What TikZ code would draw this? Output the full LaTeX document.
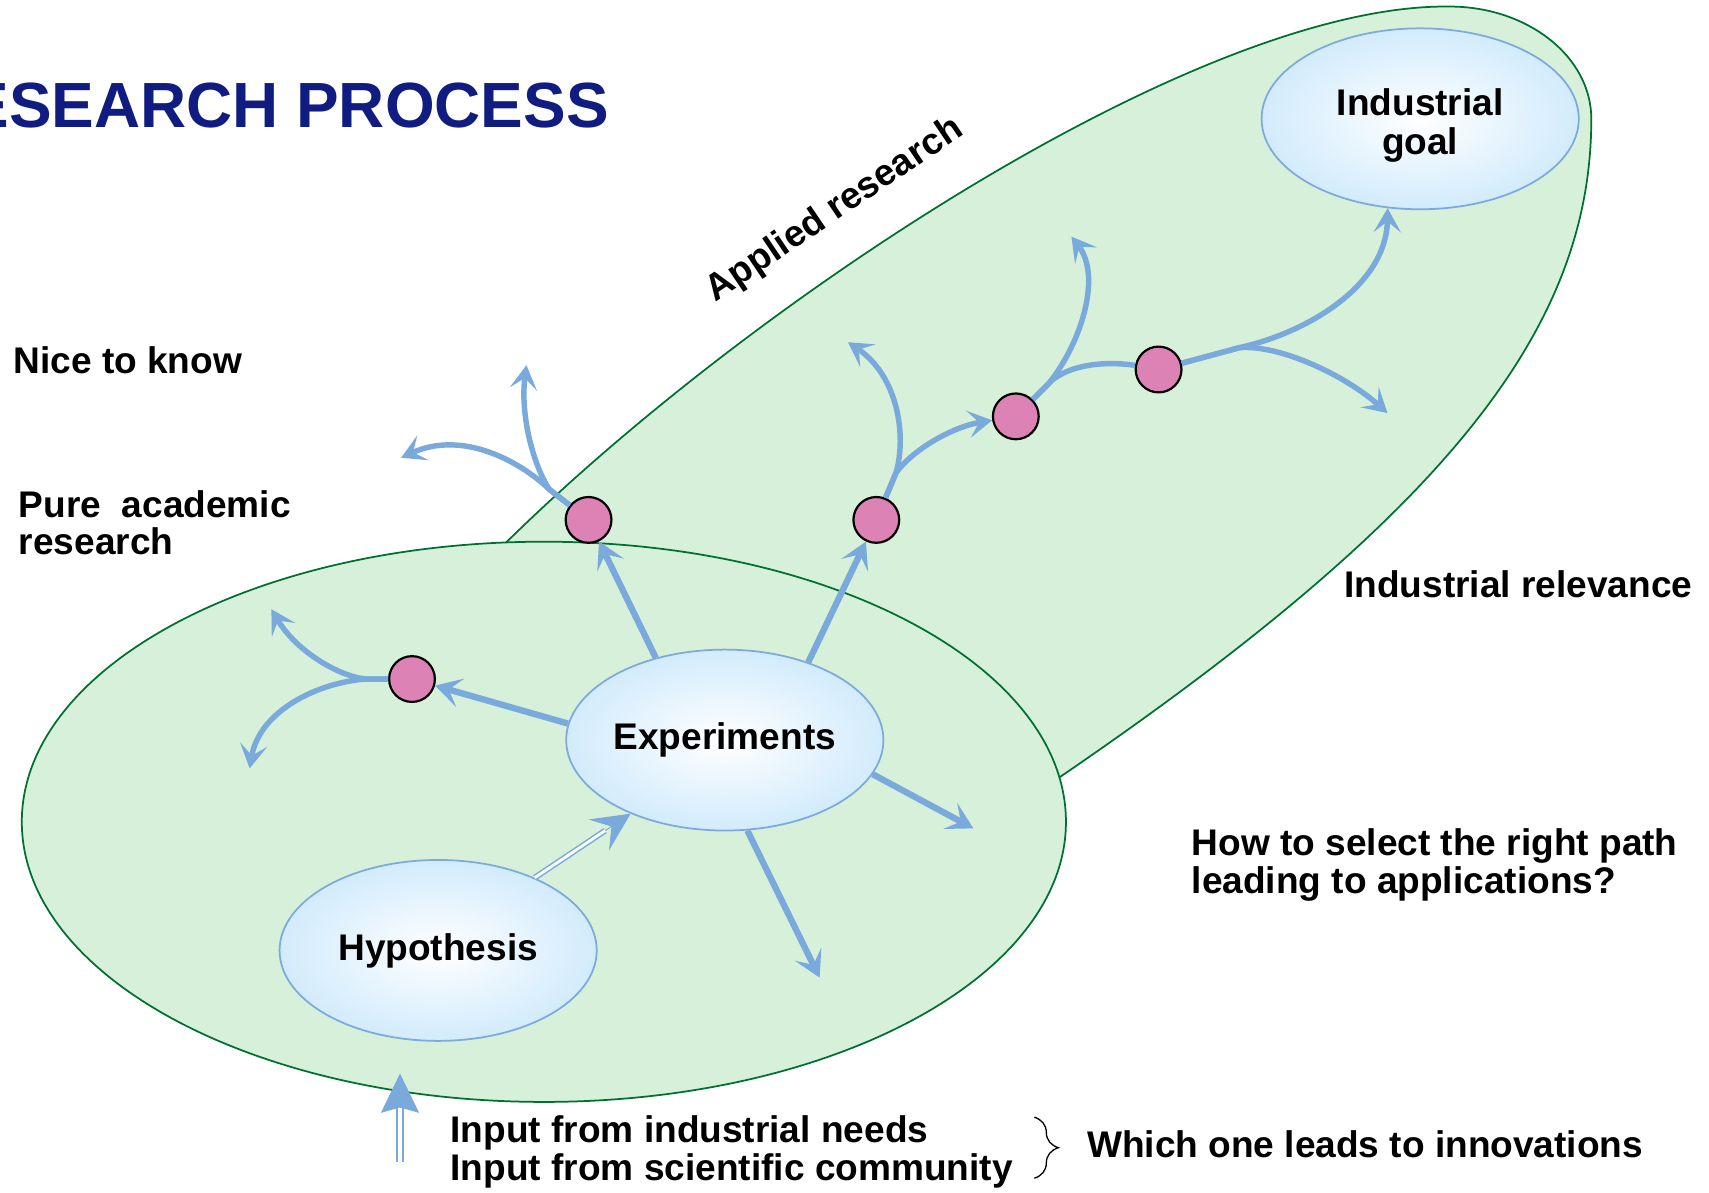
\documentclass[tikz,border=0pt]{standalone}
\usepackage{fontspec}
\setmainfont{Liberation Sans}
\usetikzlibrary{shapes.geometric,arrows.meta,decorations.pathreplacing}
\definecolor{areagreen}{RGB}{214,240,218}
\definecolor{edgegreen}{RGB}{0,112,48}
\definecolor{arrowblue}{RGB}{122,170,220}
\definecolor{bubbleblue}{RGB}{210,235,252}
\definecolor{bubbleedge}{RGB}{125,170,220}
\definecolor{dotpink}{RGB}{220,130,180}
\definecolor{titleblue}{RGB}{16,28,128}
\tikzset{
  lbl/.style={font=\bfseries\fontsize{17}{17.5}\selectfont, inner sep=0pt, anchor=base west},
  bubble/.style={ellipse, draw=bubbleedge, line width=0.8pt, inner color=white, outer color=bubbleblue,
    minimum width=145.5pt, minimum height=83pt, inner sep=0pt,
    font=\bfseries\fontsize{17}{17.5}\selectfont, align=center},
  dotnode/.style={circle, draw=black, line width=1pt, fill=dotpink, minimum size=21pt, inner sep=0pt},
  marr/.style={draw=arrowblue, line width=2.9pt, -{Stealth[length=12pt, width=13.5pt, inset=5.5pt]}},
  barr/.style={draw=arrowblue, line width=2.5pt, -{Stealth[length=11pt, width=12.5pt, inset=5pt]}},
  bline/.style={draw=arrowblue, line width=2.5pt},
  region/.style={fill=areagreen, draw=edgegreen, line width=0.8pt},
}
\begin{document}
\begin{tikzpicture}[x=0.5pt, y=-0.5pt]
\useasboundingbox (0,0) rectangle (1568,1093.7);
\fill[white] (0,0) rectangle (1568,1093.7);

% applied research region (its lower-left part is hidden by the pure research region)
\path[region] (430,545) -- (455,507)
  .. controls (680,282) and (1100,3) .. (1330,6)
  .. controls (1401.5,6) and (1460,52) .. (1460,109)
  .. controls (1460,300) and (1330,470) .. (965,718)
  -- (940,740) -- cycle;
% pure research region
\path[region] (499,754) ellipse [x radius=239.5pt, y radius=128.5pt];

% title and labels
\node[anchor=base east, font=\bfseries\fontsize{29.3}{30}\selectfont, text=titleblue, inner sep=0pt]
  (title) at (559,117) {RESEARCH PROCESS};
\node[lbl] (nice) at (12,343) {Nice to know};
\node[lbl] (pure1) at (17,475) {Pure\ \ academic};
\node[lbl] (pure2) at (17,509) {research};
\node[lbl] (relev) at (1233,548) {Industrial relevance};
\node[lbl] (how1) at (1093,785) {How to select the right path};
\node[lbl] (how2) at (1093,820) {leading to applications?};
\node[lbl] (in1) at (413,1048) {Input from industrial needs};
\node[lbl] (in2) at (413,1083) {Input from scientific community};
\node[lbl] (which) at (997,1062) {Which one leads to innovations};
\node[font=\bfseries\fontsize{17}{17.5}\selectfont, inner sep=0pt, rotate=34]
  (applied) at (766,193) {Applied research};

% bubbles
\node[bubble] (exp) at (665,679) {Experiments};
\node[bubble] (hyp) at (402,872) {Hypothesis};
\node[bubble] (goal) at (1303,109) {\raisebox{-8.3pt}[0pt][0pt]{\begin{tabular}{@{}c@{}}Industrial\\[0.5pt]goal\end{tabular}}};

% dots
\node[dotnode] (d1) at (378,623) {};
\node[dotnode] (d2) at (540,477) {};
\node[dotnode] (d3) at (804,477) {};
\node[dotnode] (d4) at (932,382) {};
\node[dotnode] (d5) at (1063,339) {};

% free ends and junctions
\coordinate (e1) at (893,760);
\coordinate (e2) at (752,897);
\coordinate (j1) at (336,623);
\coordinate (t1a) at (249,559);
\coordinate (t1b) at (229,705);
\coordinate (j2) at (504,449);
\coordinate (t2a) at (483,335);
\coordinate (t2b) at (368,420);
\coordinate (j3) at (822,434);
\coordinate (t3a) at (778,314);
\coordinate (j4) at (962,352);
\coordinate (t4a) at (983,217);
\coordinate (j5) at (1137,319);
\coordinate (t5b) at (1273,379);
\coordinate (ib) at (367,1066);
\coordinate (it) at (367,985);
\coordinate (b1) at (949,1025);
\coordinate (b2) at (949,1081);

% arrows out of Experiments
\draw[marr] (exp.174) -- (d1);
\draw[marr] (exp.130) -- (d2);
\draw[marr] (exp.43) -- (d3);
\draw[marr] (exp.-13) -- (e1);
\draw[marr] (exp.-76) -- (e2);

% branches
\draw[barr] (d1) -- (j1) .. controls (312,621) and (272,598) .. (t1a);
\draw[barr] (d1) -- (j1) .. controls (292,626) and (238,652) .. (t1b);
\draw[barr] (d2) -- (j2) .. controls (490,428) and (477,382) .. (t2a);
\draw[barr] (d2) -- (j2) .. controls (478,424) and (425,394) .. (t2b);
\draw[barr] (d3) -- (j3) .. controls (832,400) and (824,345) .. (t3a);
\draw[barr] (d3) -- (j3) .. controls (836,414) and (872,392) .. (d4);
\draw[barr] (d4) -- (j4) .. controls (990,318) and (1012,255) .. (t4a);
\draw[bline] (d4) -- (j4) .. controls (975,338) and (1005,330) .. (d5.170);
\draw[barr] (d5) -- (j5) .. controls (1200,305) and (1272,262) .. (goal.250);
\draw[barr] (d5) -- (j5) .. controls (1175,316) and (1235,345) .. (t5b);

% Hypothesis -> Experiments (double line)
\draw[arrowblue, line width=0.4pt, -{Stealth[length=17.5pt, width=17pt, inset=7pt]}] (hyp.37) -- (exp.218);
\draw[arrowblue, line width=0.7pt, double=white, double distance=1.3pt, shorten >=14pt] (hyp.37) -- (exp.218);

% input arrow (double line)
\draw[arrowblue, line width=0.4pt, -{Stealth[length=18pt, width=17.5pt, inset=2.5pt]}] (ib) -- (it);
\draw[arrowblue, line width=0.9pt, double=white, double distance=1.8pt, shorten >=16pt] (ib) -- (it);

% brace
\draw[decorate, decoration={brace, amplitude=11pt}, line width=0.6pt] (b1) -- (b2);
\end{tikzpicture}
\end{document}
